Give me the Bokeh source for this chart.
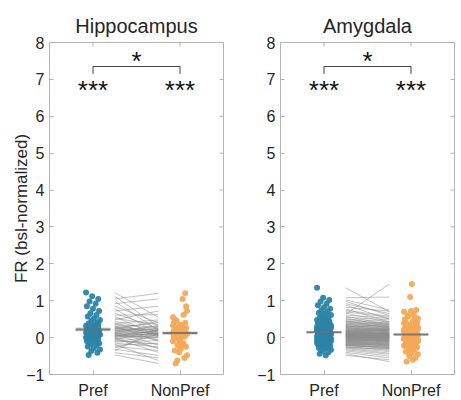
import numpy as np
from bokeh.plotting import figure
from bokeh.layouts import row
from bokeh.models import Range1d, FixedTicker
from bokeh.core.properties import value
from bokeh.embed import file_html
from bokeh.resources import INLINE

# ---------------- data ----------------
categories = ["Pref", "NonPref"]
yticks = [-1, 0, 1, 2, 3, 4, 5, 6, 7, 8]
titles = ["Hippocampus", "Amygdala"]
sig_within = ["***", "***"]
sig_between = "*"

hip_pref = [1.22, 1.12, 1.05, 0.98, 0.92, 0.85, 0.78, 0.72, 0.66, 0.61,
            0.57, 0.52, 0.48, 0.45, 0.41, 0.38, 0.35, 0.32, 0.30, 0.27,
            0.25, 0.23, 0.21, 0.19, 0.17, 0.15, 0.13, 0.11, 0.10, 0.08,
            0.06, 0.05, 0.03, 0.02, 0.00, -0.02, -0.04, -0.06, -0.08, -0.10,
            -0.12, -0.15, -0.18, -0.21, -0.24, -0.28, -0.32, -0.36, -0.41, -0.47,
            0.28, 0.14, 0.09, 0.36, 0.22, 0.18, 0.04, -0.01, 0.12, 0.26]
hip_non = [0.55, 0.30, 1.20, 0.20, 1.05, 0.40, 0.10, 0.85, 0.25, 0.62,
           0.05, 0.35, 0.72, 0.15, 0.02, 0.48, 0.28, -0.10, 0.18, 0.40,
           0.08, 0.22, -0.05, 0.30, 0.12, -0.20, 0.06, 0.16, -0.30, 0.10,
           0.00, 0.20, 0.12, 0.04, 0.12, -0.40, 0.08, 0.22, -0.18, 0.02,
           -0.08, -0.25, -0.62, -0.15, -0.35, 0.10, -0.48, 0.22, -0.55, -0.70,
           0.14, 0.33, -0.06, 0.09, 0.45, 0.24, 0.19, -0.28, 0.26, 0.07]

amy_pref = [1.35, 1.08, 1.02, 0.98, 0.92, 0.88, 0.82, 0.78, 0.74, 0.70,
            0.67, 0.64, 0.61, 0.58, 0.55, 0.53, 0.50, 0.48, 0.46, 0.44,
            0.42, 0.40, 0.38, 0.36, 0.35, 0.33, 0.31, 0.30, 0.28, 0.27,
            0.25, 0.24, 0.22, 0.21, 0.20, 0.19, 0.18, 0.17, 0.16, 0.15,
            0.14, 0.13, 0.12, 0.11, 0.10, 0.09, 0.08, 0.07, 0.06, 0.05,
            0.04, 0.03, 0.02, 0.01, 0.00, -0.01, -0.02, -0.03, -0.04, -0.05,
            -0.06, -0.07, -0.08, -0.09, -0.10, -0.11, -0.12, -0.13, -0.14, -0.15,
            -0.16, -0.17, -0.18, -0.19, -0.20, -0.22, -0.24, -0.26, -0.28, -0.30,
            -0.33, -0.36, -0.40, -0.44, -0.48, 0.23, 0.19, 0.16, 0.12, 0.09,
            0.06, 0.03, 0.14, 0.11, 0.08, 0.05, 0.26, 0.32, 0.02, -0.02,
            0.17, -0.21, 0.29, -0.27, 0.43, -0.07, -0.12, 0.07, -0.10, 0.13,
            0.04, 0.00, -0.15, -0.18, -0.04, -0.22, 0.37, 0.09, 0.01, -0.06]
amy_non = [0.70, 1.10, 0.75, 0.60, 0.65, 0.50, 0.72, 0.42, 0.58, 0.55,
           0.40, 1.45, 0.52, 0.35, 0.48, 0.30, 0.44, 0.38, 0.25, 0.40,
           0.33, 0.28, 0.36, 0.22, 0.30, 0.18, 0.26, 0.32, 0.15, 0.24,
           0.20, 0.16, 0.24, 0.12, 0.18, 0.10, 0.22, 0.08, 0.14, 0.11,
           0.10, 0.06, 0.12, 0.04, 0.09, 0.02, 0.07, 0.00, 0.05, 0.03,
           0.01, -0.02, 0.03, -0.05, 0.00, -0.08, -0.03, 0.02, -0.10, -0.06,
           -0.12, -0.08, -0.15, -0.10, -0.18, -0.14, -0.20, -0.11, -0.22, -0.16,
           -0.24, -0.19, -0.28, -0.22, -0.30, -0.26, -0.35, -0.32, -0.38, -0.42,
           -0.45, -0.50, -0.55, -0.65, -0.60, 0.18, 0.14, 0.20, 0.08, 0.05,
           0.04, 0.00, 0.10, 0.13, 0.06, 0.02, 0.21, 0.27, -0.03, -0.04,
           0.15, -0.25, 0.22, -0.30, 0.36, -0.09, -0.13, 0.05, -0.07, 0.08,
           0.06, -0.01, -0.17, -0.20, -0.06, -0.27, 0.30, 0.11, -0.02, -0.04]

# ---------------- style ----------------
FONT = "Liberation Sans"
BLUE = "#2b84a7"
ORANGE = "#f4a959"
AXIS_GRAY = "#b4b4b4"
TEXT = "#262626"
FRAME_W = 174
FRAME_H = 332
X0, X1 = 0.5, 2.5
Y0, Y1 = -1, 8
TICK_PX = 4


def jitter(n, center):
    # deterministic spread of dots around the category position
    return [center + (((i * 7) % 17) - 8) / 100.0 for i in range(n)]


def panel(title, pref, non, left_border, right_border, show_ylabel):
    p = figure(frame_width=FRAME_W, frame_height=FRAME_H,
               x_range=Range1d(X0, X1), y_range=Range1d(Y0, Y1),
               output_backend="svg", toolbar_location=None,
               min_border_left=left_border, min_border_right=right_border,
               min_border_top=42, min_border_bottom=20)
    p.grid.visible = False
    p.outline_line_color = AXIS_GRAY
    p.background_fill_color = "white"
    p.border_fill_color = "white"

    p.title.text = title
    p.title.align = "center"
    p.title.text_font = FONT
    p.title.text_font_size = "20px"
    p.title.text_font_style = "normal"
    p.title.text_color = TEXT
    p.title.standoff = 12

    p.xaxis.ticker = FixedTicker(ticks=[1, 2])
    p.xaxis.major_label_overrides = {1: categories[0], 2: categories[1]}
    p.yaxis.ticker = FixedTicker(ticks=yticks)
    for ax in p.axis:
        ax.axis_line_color = AXIS_GRAY
        ax.major_tick_line_color = AXIS_GRAY
        ax.major_tick_in = TICK_PX
        ax.major_tick_out = 0
        ax.minor_tick_line_color = None
        ax.major_label_text_font = FONT
        ax.major_label_text_font_size = "16px"
        ax.major_label_text_color = TEXT
    p.xaxis.major_label_standoff = 7
    p.yaxis.major_label_standoff = 5
    if show_ylabel:
        p.yaxis.axis_label = "FR (bsl-normalized)"
        p.yaxis.axis_label_text_font = FONT
        p.yaxis.axis_label_text_font_size = "17px"
        p.yaxis.axis_label_text_font_style = "normal"
        p.yaxis.axis_label_text_color = TEXT
        p.yaxis.axis_label_standoff = -8

    # mirror ticks on the top and right edges of the box
    dy = TICK_PX * (Y1 - Y0) / FRAME_H
    dx = TICK_PX * (X1 - X0) / FRAME_W
    p.segment(x0=[1, 2], y0=[Y1, Y1], x1=[1, 2], y1=[Y1 - dy, Y1 - dy],
              line_color=AXIS_GRAY, line_width=1)
    p.segment(x0=[X1] * len(yticks), y0=yticks, x1=[X1 - dx] * len(yticks), y1=yticks,
              line_color=AXIS_GRAY, line_width=1)

    n = len(pref)
    # paired lines
    p.segment(x0=[1.25] * n, y0=pref, x1=[1.75] * n, y1=non,
              line_color="#8a8a8a", line_width=0.7, line_alpha=0.75)

    # mean +/- sem bands
    for center, vals in ((1, pref), (2, non)):
        arr = np.array(vals)
        m = arr.mean()
        sem = arr.std(ddof=1) / np.sqrt(len(arr))
        p.quad(left=[center - 0.2], right=[center + 0.2],
               bottom=[m - sem], top=[m + sem],
               fill_color="#9a9a9a", fill_alpha=0.45, line_color=None)

    p.scatter(jitter(n, 1), pref, size=6, fill_color=BLUE, line_color=None, fill_alpha=0.95)
    p.scatter(jitter(n, 2), non, size=6, fill_color=ORANGE, line_color=None, fill_alpha=0.95)

    for center, vals in ((1, pref), (2, non)):
        m = float(np.mean(vals))
        p.line([center - 0.2, center + 0.2], [m, m], line_color="#6e6e6e",
               line_width=2, line_alpha=0.85)

    # significance markers
    p.text(x=[1, 2], y=[6.7, 6.7], text=sig_within, text_align="center",
           text_baseline="middle", text_font_size="26px", text_color="#111111",
           text_font=value(FONT))
    by, tk = 7.35, 0.2
    p.line([1, 1, 2, 2], [by - tk, by, by, by - tk], line_color="#404040", line_width=1)
    p.text(x=[1.5], y=[7.5], text=[sig_between], text_align="center",
           text_baseline="middle", text_font_size="26px", text_color="#111111",
           text_font=value(FONT))
    return p


p1 = panel(titles[0], hip_pref, hip_non, 49, 2, True)
p2 = panel(titles[1], amy_pref, amy_non, 55, 2, False)
layout = row(p1, p2, spacing=0)

open("out.html", "w").write(file_html(layout, INLINE))
